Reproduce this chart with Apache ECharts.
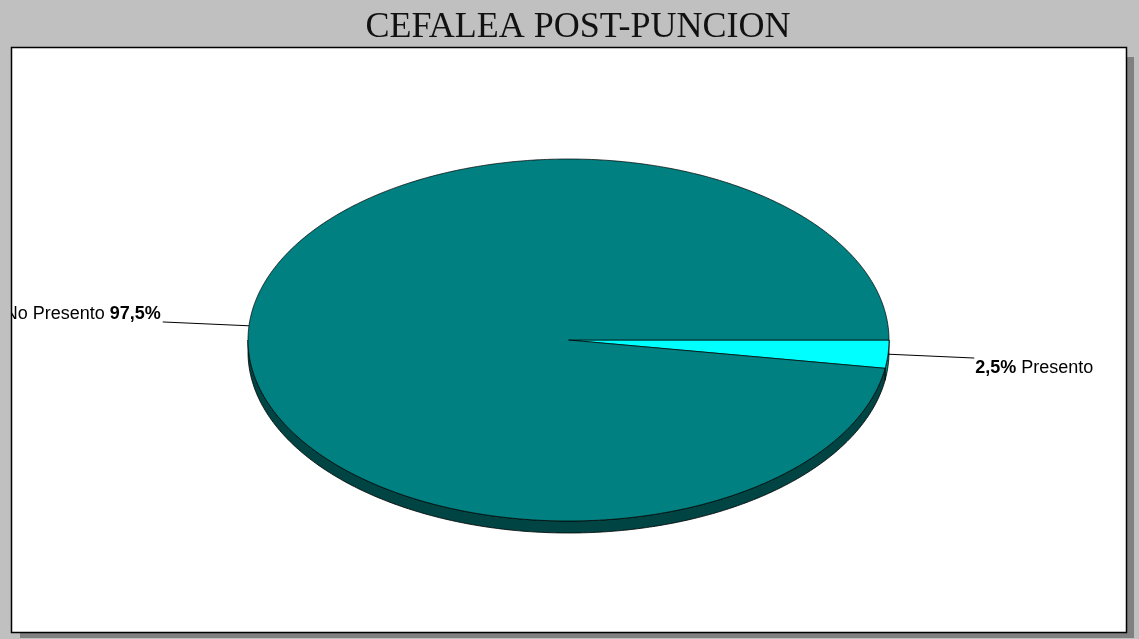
<!DOCTYPE html>
<html>
<head>
<meta charset="utf-8">
<script src="https://cdn.jsdelivr.net/npm/echarts@6/dist/echarts.min.js"></script>
<style>html,body{margin:0;padding:0;background:#c0c0c0;}#main{width:1139px;height:639px;}</style>
</head>
<body>
<div id="main"></div>
<script>
const titleText = 'CEFALEA POST-PUNCION';
const categories = ['Presento', 'No Presento'];
const values = [2.5, 97.5];
const topColors = ['#00ffff', '#008080'];
const sideColors = ['#008080', '#004444'];

const chart = echarts.init(document.getElementById('main'));
const total = values.reduce((a, b) => a + b, 0);
const G = { cx: 568.5, cy: 340, rx: 320.5, ry: 181, depth: 12 };

function sliceAngles(i) {
  let before = 0;
  for (let k = 0; k < i; k++) before += values[k];
  return [before / total * Math.PI * 2, (before + values[i]) / total * Math.PI * 2];
}
function arcPts(a0, a1, dy) {
  const pts = [];
  const n = Math.max(2, Math.ceil((a1 - a0) / 0.01));
  for (let s = 0; s <= n; s++) {
    const t = a0 + (a1 - a0) * s / n;
    pts.push([G.cx + G.rx * Math.cos(t), G.cy + G.ry * Math.sin(t) + dy]);
  }
  return pts;
}
function pctText(i) {
  return (values[i] / total * 100).toFixed(1).replace('.', ',') + '%';
}

const seriesData = categories.map((c, i) => ({ name: c, value: values[i] }));

const option = {
  backgroundColor: '#c0c0c0',
  animation: false,
  title: {
    text: titleText, left: 573, top: 5, textAlign: 'center',
    textStyle: { fontFamily: 'Liberation Serif', fontWeight: 'normal', fontSize: 36, color: '#111' }
  },
  graphic: [
    { type: 'rect', z: -10, shape: { x: 1127, y: 57, width: 7, height: 581 }, style: { fill: '#808080' } },
    { type: 'rect', z: -10, shape: { x: 20, y: 633, width: 1114, height: 5 }, style: { fill: '#808080' } },
    { type: 'rect', z: -9, shape: { x: 11.5, y: 47.5, width: 1115, height: 585 }, style: { fill: '#ffffff' } },
    { type: 'rect', z: 100, shape: { x: 0, y: 47, width: 11, height: 592 }, style: { fill: '#c0c0c0' } },
    { type: 'rect', z: 101, shape: { x: 11.5, y: 47.5, width: 1115, height: 585 }, style: { fill: null, stroke: '#000', lineWidth: 1.5 } }
  ],
  series: [
    {
      type: 'custom', coordinateSystem: 'none', data: seriesData, z: 2,
      renderItem: function (params, api) {
        const i = params.dataIndex;
        const [s, e] = sliceAngles(i);
        const a0 = Math.max(s, 0), a1 = Math.min(e, Math.PI);
        if (a1 <= a0) return null;
        const top = arcPts(a0, a1, 0);
        const bot = arcPts(a0, a1, G.depth).reverse();
        return {
          type: 'polygon',
          shape: { points: top.concat(bot) },
          style: { fill: sideColors[i], stroke: '#000', lineWidth: 0.8 }
        };
      }
    },
    {
      type: 'custom', coordinateSystem: 'none', data: seriesData, z: 3,
      renderItem: function (params, api) {
        const i = params.dataIndex;
        const [s, e] = sliceAngles(i);
        const pts = [[G.cx, G.cy]].concat(arcPts(s, e, 0));
        const m = (s + e) / 2;
        const ex = G.cx + G.rx * Math.cos(m), ey = G.cy + G.ry * Math.sin(m);
        const f = 1.27;
        const lx = G.cx + f * G.rx * Math.cos(m), ly = G.cy + f * G.ry * Math.sin(m);
        const right = Math.cos(m) >= 0;
        const below = Math.sin(m) >= 0;
        const txt = right ? ('{b|' + pctText(i) + '} ' + categories[i]) : (categories[i] + ' {b|' + pctText(i) + '}');
        return {
          type: 'group',
          children: [
            { type: 'polygon', shape: { points: pts }, style: { fill: topColors[i], stroke: '#000', lineWidth: 0.7 } },
            { type: 'line', shape: { x1: ex, y1: ey, x2: lx, y2: ly }, style: { stroke: '#000', lineWidth: 1 } },
            {
              type: 'text',
              style: {
                text: txt,
                x: right ? lx + 1 : lx - 2,
                y: ly + (below ? 10 : -8),
                align: right ? 'left' : 'right',
                verticalAlign: 'middle',
                fontFamily: 'Liberation Sans', fontSize: 18, fill: '#000',
                rich: { b: { fontFamily: 'Liberation Sans', fontSize: 18, fontWeight: 'bold', fill: '#000' } }
              }
            }
          ]
        };
      }
    }
  ]
};
chart.setOption(option);
</script>
</body>
</html>
